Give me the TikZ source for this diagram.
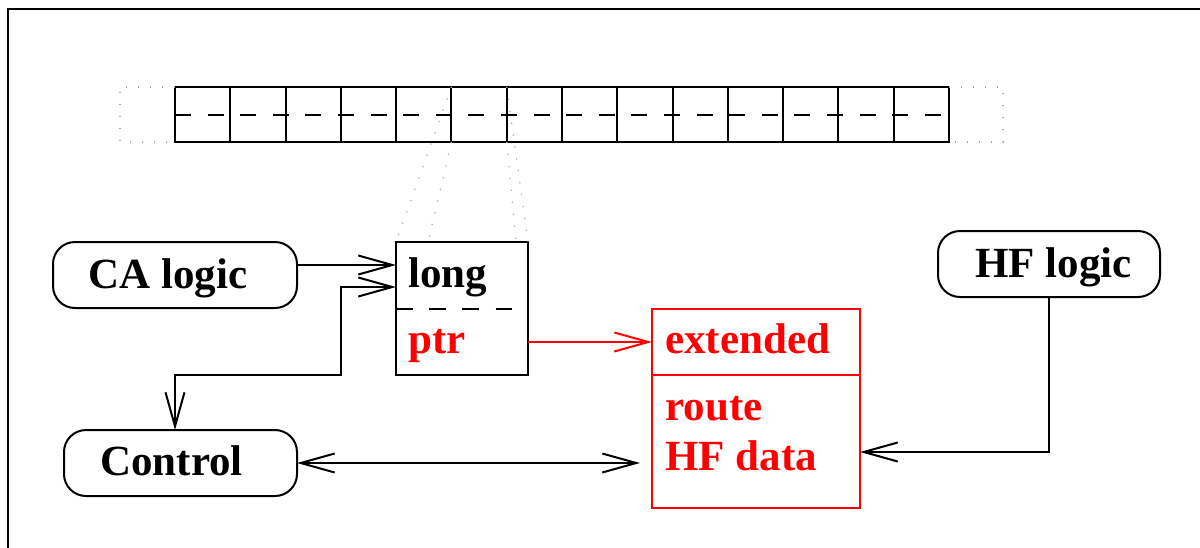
\documentclass[tikz,border=0pt]{standalone}
\usepackage{fontspec}
\setmainfont{Liberation Serif}
\usetikzlibrary{arrows.meta}
\definecolor{ink}{HTML}{000000}
\definecolor{hot}{HTML}{FF0000}
\definecolor{faint}{HTML}{A8A8A8}
\tikzset{
  font=\fontsize{21.5}{25}\selectfont\bfseries,
  >={Straight Barb[length=17pt,width=9.5pt]},
  cell/.style={draw=ink,line width=1pt,minimum width=27.64pt,minimum height=27.5pt,inner sep=0pt,outer sep=0pt},
  logic/.style={draw=ink,line width=1pt,rounded corners=11pt,inner sep=0pt,outer sep=0pt,minimum height=33pt},
  record/.style={draw=ink,line width=1pt,inner sep=0pt,outer sep=0pt},
  lbl/.style={anchor=base west,inner sep=0pt},
  flow/.style={->,draw=ink,line width=1pt},
  guide/.style={draw=faint,line width=.6pt,dash pattern=on .6pt off 5.4pt}
}
\begin{document}
\begin{tikzpicture}[x=0.5pt,y=-0.5pt]
  \useasboundingbox (0,0) rectangle (1200,547);
  \draw[ink,line width=1pt] (8,560) -- (8,9) -- (1210,9);

  % the table of entries
  \foreach \i in {1,...,14}
    \node[cell] (c\i) at ({175+55.286*(\i-0.5)},114.5) {};
  \draw[ink,line width=1pt,dash pattern=on 8pt off 8.3pt] (c1.west) -- (c14.east);
  \draw[guide] (c1.north west) -- ++(-55,0) -- ++(0,55) -- (c1.south west);
  \draw[guide] (c14.north east) -- ++(54,0) -- ++(0,55) -- (c14.south east);

  \node[logic,minimum width=122pt] (ca) at (175,275) {};
  \node[logic,minimum width=116.5pt] (ctl) at (180.5,463) {};
  \node[logic,minimum width=111pt] (hf) at (1049,264) {};
  \node[record,minimum width=66pt,minimum height=66.5pt] (long) at (462,308.5) {};
  \node[record,draw=hot,minimum width=104pt,minimum height=99.5pt] (ext) at (756,408.5) {};

  \node[lbl] (lca) at ([xshift=17.5pt,yshift=-6.5pt]ca.west) {CA logic};
  \node[lbl] (lctl) at ([xshift=18pt,yshift=-6pt]ctl.west) {Control};
  \node[lbl] (lhf) at ([xshift=18.5pt,yshift=-6.5pt]hf.west) {HF logic};
  \node[lbl] (llong) at ([xshift=6pt,yshift=-22.5pt]long.north west) {long};
  \node[lbl,text=hot] (lptr) at ([xshift=6pt,yshift=-55.5pt]long.north west) {ptr};
  \node[lbl,text=hot] (lext) at ([xshift=6.5pt,yshift=-22pt]ext.north west) {extended};
  \node[lbl,text=hot] (lroute) at ([xshift=6.5pt,yshift=-55.5pt]ext.north west) {route};
  \node[lbl,text=hot] (ldata) at ([xshift=6.5pt,yshift=-80.5pt]ext.north west) {HF data};
  \draw[ink,line width=1pt,dash pattern=on 8.3pt off 8.3pt] (long.west) -- ++(116,0);
  \draw[hot,line width=1pt] ([yshift=16.75pt]ext.west) -- ([yshift=16.75pt]ext.east);

  % zoom from one entry down to the record
  \draw[guide] (c6.north west) -- (long.north west);
  \draw[guide] (c6.south west) -- ([xshift=16pt]long.north west);
  \draw[guide] (c6.north east) -- (long.north east);
  \draw[guide] (c6.south east) -- ([xshift=-6pt]long.north east);

  \draw[flow] ([yshift=5pt]ca.east) -- ([yshift=5pt]ca.east -| long.west);
  \draw[flow,<->] ([yshift=-22.5pt]long.north west) -- ++(-55,0) -- ++(0,88) -| ([xshift=-2.75pt]ctl.north);
  \draw[flow,draw=hot] ([yshift=-16.75pt]long.east) -- ([yshift=-16.75pt]long.east -| ext.west);
  \draw[flow,<->] (ctl.east) -- ([xshift=-6pt]ctl.east -| ext.west);
  \draw[flow] (hf.south) |- ([yshift=-21.75pt]ext.east);
\end{tikzpicture}
\end{document}
